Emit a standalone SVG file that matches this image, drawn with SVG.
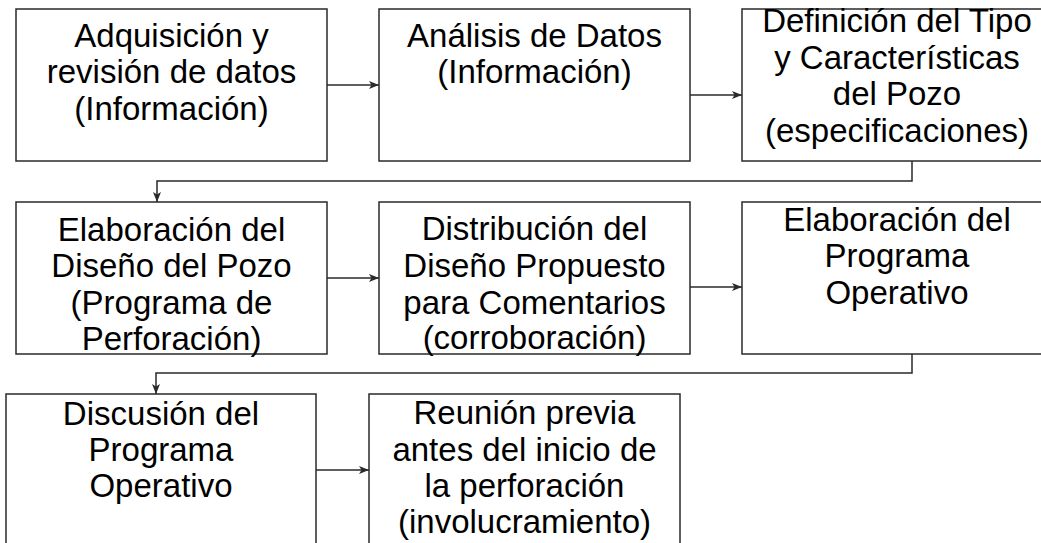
<svg xmlns="http://www.w3.org/2000/svg" width="1041" height="543" viewBox="0 0 1041 543">
<style>
.box{fill:#fff;stroke:#2a2a2a;stroke-width:1.5}
.t{font-family:"Liberation Sans",Arial,sans-serif;font-size:33px;fill:#000;text-anchor:middle}
.c{fill:none;stroke:#2a2a2a;stroke-width:1.5}
</style>
<defs>
<marker id="ah" markerWidth="11" markerHeight="9" refX="10" refY="4.5" orient="auto" markerUnits="userSpaceOnUse">
<path d="M0,0.5 L10,4.5 L0,8.5 L2.5,4.5 z" fill="#2a2a2a"/>
</marker>
</defs>
<rect width="1041" height="543" fill="#fff"/>
<g id="n1"><rect class="box" x="16" y="9" width="311" height="152"/>
<text class="t" x="171.5" y="47">Adquisición y</text><text class="t" x="171.5" y="83">revisión de datos</text><text class="t" x="171.5" y="120">(Información)</text></g>
<g id="n2"><rect class="box" x="379" y="9" width="311" height="152"/>
<text class="t" x="534.5" y="47">Análisis de Datos</text><text class="t" x="534.5" y="83">(Información)</text></g>
<g id="n3"><rect class="box" x="742" y="9" width="311" height="152"/>
<text class="t" x="897" y="32">Definición del Tipo</text><text class="t" x="897" y="68.5">y Características</text><text class="t" x="897" y="105">del Pozo</text><text class="t" x="897" y="142">(especificaciones)</text></g>
<g id="n4"><rect class="box" x="16" y="202" width="311" height="152"/>
<text class="t" x="171.5" y="241">Elaboración del</text><text class="t" x="171.5" y="277">Diseño del Pozo</text><text class="t" x="171.5" y="314">(Programa de</text><text class="t" x="171.5" y="350">Perforación)</text></g>
<g id="n5"><rect class="box" x="379" y="202" width="311" height="152"/>
<text class="t" x="534.5" y="240">Distribución del</text><text class="t" x="534.5" y="277">Diseño Propuesto</text><text class="t" x="534.5" y="314">para Comentarios</text><text class="t" x="534.5" y="349">(corroboración)</text></g>
<g id="n6"><rect class="box" x="742" y="202" width="311" height="152"/>
<text class="t" x="897" y="231">Elaboración del</text><text class="t" x="897" y="267">Programa</text><text class="t" x="897" y="304">Operativo</text></g>
<g id="n7"><rect class="box" x="6" y="394" width="310" height="160"/>
<text class="t" x="161" y="425">Discusión del</text><text class="t" x="161" y="461">Programa</text><text class="t" x="161" y="497">Operativo</text></g>
<g id="n8"><rect class="box" x="369" y="394" width="311" height="160"/>
<text class="t" x="524.5" y="424">Reunión previa</text><text class="t" x="524.5" y="461">antes del inicio de</text><text class="t" x="524.5" y="497">la perforación</text><text class="t" x="524.5" y="533">(involucramiento)</text></g>
<g id="connectors">
<path class="c" d="M327,85 H379" marker-end="url(#ah)"/>
<path class="c" d="M690,95 H742" marker-end="url(#ah)"/>
<path class="c" d="M912,161 V181 H157 V202" marker-end="url(#ah)"/>
<path class="c" d="M327,278 H379" marker-end="url(#ah)"/>
<path class="c" d="M690,287 H742" marker-end="url(#ah)"/>
<path class="c" d="M912,354 V373 H156 V394" marker-end="url(#ah)"/>
<path class="c" d="M316,470 H369" marker-end="url(#ah)"/>
</g>
</svg>
